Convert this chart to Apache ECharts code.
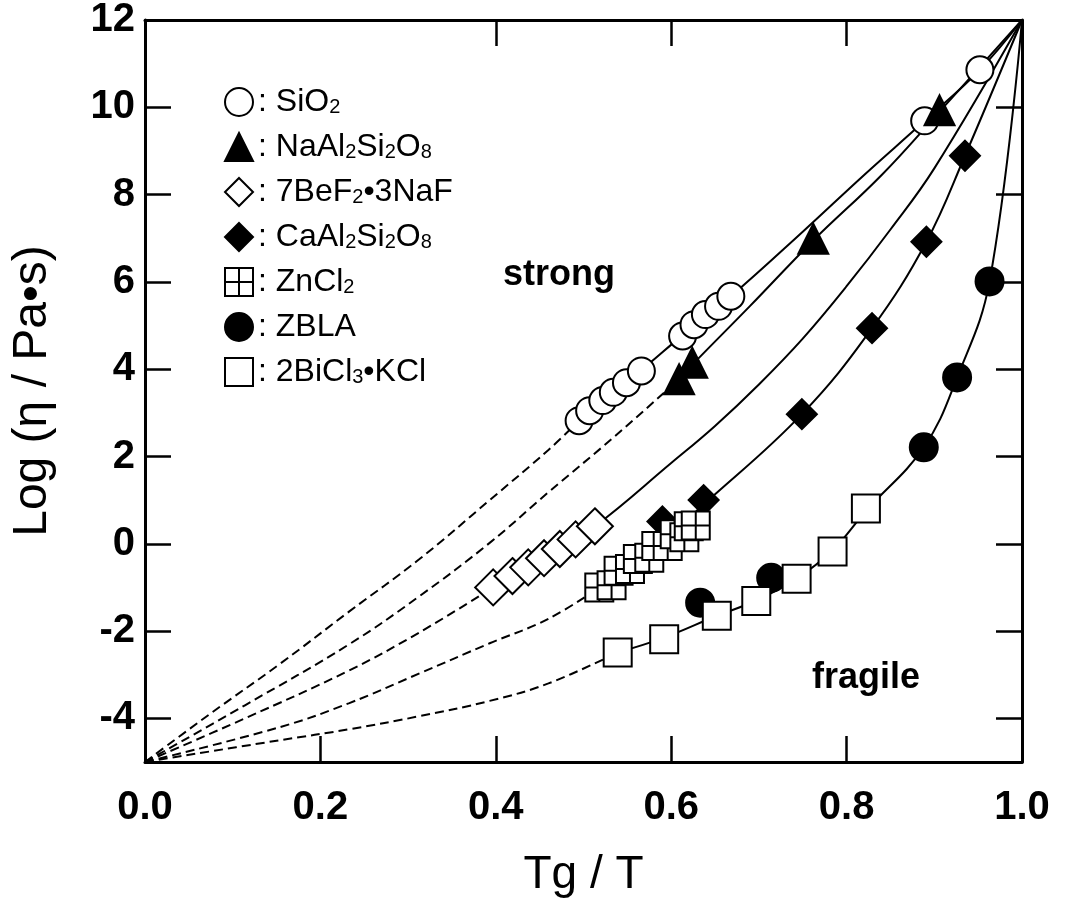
<!DOCTYPE html>
<html>
<head>
<meta charset="utf-8">
<script src="https://cdn.jsdelivr.net/npm/echarts@6/dist/echarts.min.js"></script>
<style>
  html, body { margin: 0; padding: 0; background: #fff; }
  #chart { width: 1074px; height: 922px; }
</style>
</head>
<body>
<div id="chart"></div>
<script>
// Tick values
const xTickLabels = [0, 0.2, 0.4, 0.6, 0.8, 1.0];
const xTicksBottom = [0.2, 0.4, 0.6, 0.8];
const xTicksTop = [0.4, 0.6, 0.8];
const yTickLabels = [-4, -2, 0, 2, 4, 6, 8, 10, 12];
const yTicks = [-4, -2, 0, 2, 4, 6, 8, 10];

// Measured points  [Tg/T, log(eta / Pa s)]
const sio2 = [[0.495, 2.82], [0.507, 3.05], [0.522, 3.28], [0.534, 3.47], [0.549, 3.69], [0.566, 3.96],
              [0.613, 4.76], [0.626, 5.02], [0.639, 5.25], [0.654, 5.44], [0.668, 5.67],
              [0.889, 9.69], [0.952, 10.86]];
const naal = [[0.609, 3.77], [0.624, 4.15], [0.762, 6.99], [0.906, 9.93]];
const befnaf = [[0.397, -1.00], [0.419, -0.74], [0.437, -0.54], [0.455, -0.33], [0.473, -0.12],
                [0.491, 0.10], [0.513, 0.40]];
const caal = [[0.590, 0.51], [0.637, 1.00], [0.749, 2.97], [0.829, 4.94], [0.891, 6.92], [0.935, 8.89]];
const zncl = [[0.518, -1.00], [0.532, -0.95], [0.540, -0.62], [0.553, -0.58], [0.562, -0.35],
              [0.575, -0.32], [0.583, -0.05], [0.596, -0.05], [0.604, 0.22], [0.615, 0.15],
              [0.620, 0.40], [0.628, 0.42]];
const zbla = [[0.633, -1.35], [0.714, -0.78], [0.888, 2.21], [0.926, 3.81], [0.963, 6.01]];
const bicl = [[0.539, -2.49], [0.592, -2.19], [0.652, -1.65], [0.697, -1.31], [0.743, -0.80],
              [0.784, -0.18], [0.822, 0.81]];

// Curves: dashed extrapolation towards (0,-5), solid through the data up to (1,12)
const curve1Dash = [[0, -5], [0.074, -3.9], [0.154, -2.75], [0.233, -1.55], [0.313, -0.35], [0.393, 1.0], [0.46, 2.15], [0.495, 2.82]];
const curve1Solid = [[0.495, 2.82], [0.530, 3.42], [0.566, 3.98], [0.613, 4.78], [0.668, 5.67], [0.75, 7.15], [0.82, 8.45], [0.889, 9.69], [0.952, 10.86], [1, 12]];
const curve2Dash = [[0, -5], [0.114, -3.7], [0.233, -2.3], [0.313, -1.2], [0.393, 0.02], [0.46, 1.18], [0.535, 2.45], [0.609, 3.77]];
const curve2Solid = [[0.609, 3.77], [0.624, 4.10], [0.69, 5.45], [0.762, 6.95], [0.84, 8.45], [0.906, 9.9], [1, 12]];
const curve3Dash = [[0, -5], [0.114, -4.0], [0.233, -2.9], [0.313, -2.03], [0.397, -1.0]];
const curve3Solid = [[0.397, -1.0], [0.455, -0.33], [0.513, 0.40], [0.6, 1.85], [0.65, 2.7], [0.7, 3.65], [0.75, 4.7], [0.8, 5.9], [0.85, 7.2], [0.9, 8.6], [1, 12]];
const curve4Dash = [[0, -5], [0.154, -4.2], [0.233, -3.65], [0.313, -2.97], [0.393, -2.28], [0.46, -1.72], [0.518, -1.0]];
const curve4Solid = [[0.518, -1.0], [0.575, -0.2], [0.637, 0.9], [0.749, 2.97], [0.829, 4.94], [0.891, 6.92], [0.935, 8.89], [1, 12]];
const curve5Dash = [[0, -5], [0.154, -4.5], [0.233, -4.25], [0.313, -3.95], [0.393, -3.6], [0.46, -3.2], [0.539, -2.49]];
const curve5Solid = [[0.539, -2.49], [0.592, -2.15], [0.652, -1.65], [0.697, -1.3], [0.743, -0.8], [0.784, -0.15], [0.822, 0.75], [0.888, 2.21], [0.926, 3.81], [0.963, 6.01], [1, 12]];

const SANS = "'Liberation Sans', Arial, sans-serif";
const HATCH = 'path://M0,0L10,0L10,10L0,10Z M5,0L5,10 M0,5L10,5';

function curve(data, dashed) {
  return {
    type: 'line', data: data, showSymbol: false, silent: true, smooth: 0.4, z: 2,
    lineStyle: { color: '#000', width: 2, type: dashed ? [9, 5] : 'solid' }
  };
}

function markers(name, data, symbol, size, filled) {
  return {
    type: 'scatter', name: name, data: data, symbol: symbol, symbolSize: size, z: 5,
    itemStyle: { color: filled ? '#000' : '#fff', borderColor: '#000', borderWidth: 2, opacity: 1 }
  };
}

// Subscript the digits that follow a letter in chemical formulae
function formula(name) {
  let out = '{t|: }';
  for (let i = 0; i < name.length; i++) {
    const c = name[i];
    if (/[0-9]/.test(c) && i > 0 && /[A-Za-z]/.test(name[i - 1])) out += '{s|' + c + '}';
    else out += '{t|' + c + '}';
  }
  return out;
}

const names = ['SiO2', 'NaAl2Si2O8', '7BeF2•3NaF', 'CaAl2Si2O8', 'ZnCl2', 'ZBLA', '2BiCl3•KCl'];

const chart = echarts.init(document.getElementById('chart'), null, { renderer: 'canvas' });
chart.setOption({
  backgroundColor: '#fff',
  animation: false,
  grid: { left: 145, right: 52, top: 15, bottom: 160 },
  legend: {
    data: names, orient: 'vertical', left: 219, top: 81,
    itemWidth: 28, itemHeight: 28, itemGap: 13, selectedMode: false,
    formatter: formula,
    textStyle: {
      rich: {
        t: { fontFamily: SANS, fontSize: 32, color: '#000', lineHeight: 30, verticalAlign: 'middle' },
        s: { fontFamily: SANS, fontSize: 20, color: '#000', lineHeight: 16, verticalAlign: 'bottom' }
      }
    }
  },
  xAxis: [{
    type: 'value', min: 0, max: 1, position: 'bottom',
    name: 'Tg / T', nameLocation: 'middle', nameGap: 90,
    nameTextStyle: { fontFamily: SANS, fontSize: 46, color: '#000' },
    axisLine: { show: true, onZero: false, lineStyle: { color: '#000', width: 3 } },
    axisTick: { show: true, inside: true, length: 26, customValues: xTicksBottom, lineStyle: { color: '#000', width: 2.5 } },
    axisLabel: { customValues: xTickLabels, margin: 26, color: '#000', fontFamily: SANS, fontWeight: 'bold', fontSize: 40,
                 formatter: v => v.toFixed(1) },
    splitLine: { show: false }
  }, {
    type: 'value', min: 0, max: 1, position: 'top',
    axisLine: { show: true, onZero: false, lineStyle: { color: '#000', width: 3 } },
    axisTick: { show: true, inside: true, length: 26, customValues: xTicksTop, lineStyle: { color: '#000', width: 2.5 } },
    axisLabel: { show: false }, splitLine: { show: false }
  }],
  yAxis: [{
    type: 'value', min: -5, max: 12, position: 'left',
    name: 'Log (η / Pa•s)', nameLocation: 'middle', nameGap: 88, nameRotate: 90,
    nameTextStyle: { fontFamily: SANS, fontSize: 48, color: '#000' },
    axisLine: { show: true, onZero: false, lineStyle: { color: '#000', width: 3 } },
    axisTick: { show: true, inside: true, length: 26, customValues: yTicks, lineStyle: { color: '#000', width: 2.5 } },
    axisLabel: { customValues: yTickLabels, margin: 10, color: '#000', fontFamily: SANS, fontWeight: 'bold', fontSize: 40 },
    splitLine: { show: false }
  }, {
    type: 'value', min: -5, max: 12, position: 'right',
    axisLine: { show: true, onZero: false, lineStyle: { color: '#000', width: 3 } },
    axisTick: { show: true, inside: true, length: 26, customValues: yTicks, lineStyle: { color: '#000', width: 2.5 } },
    axisLabel: { show: false }, splitLine: { show: false }
  }],
  graphic: [
    { type: 'text', left: 503, top: 257, silent: true,
      style: { text: 'strong', fontFamily: SANS, fontWeight: 'bold', fontSize: 36, fill: '#000' } },
    { type: 'text', left: 812, top: 660, silent: true,
      style: { text: 'fragile', fontFamily: SANS, fontWeight: 'bold', fontSize: 36, fill: '#000' } }
  ],
  series: [
    curve(curve1Dash, true), curve(curve1Solid, false),
    curve(curve2Dash, true), curve(curve2Solid, false),
    curve(curve3Dash, true), curve(curve3Solid, false),
    curve(curve4Dash, true), curve(curve4Solid, false),
    curve(curve5Dash, true), curve(curve5Solid, false),
    markers(names[0], sio2, 'circle', 27, false),
    markers(names[1], naal, 'triangle', 30, true),
    markers(names[2], befnaf, 'diamond', 36, false),
    markers(names[3], caal, 'diamond', 30, true),
    markers(names[4], zncl, HATCH, 28, false),
    markers(names[5], zbla, 'circle', 28, true),
    markers(names[6], bicl, 'rect', 28, false)
  ]
});
</script>
</body>
</html>
